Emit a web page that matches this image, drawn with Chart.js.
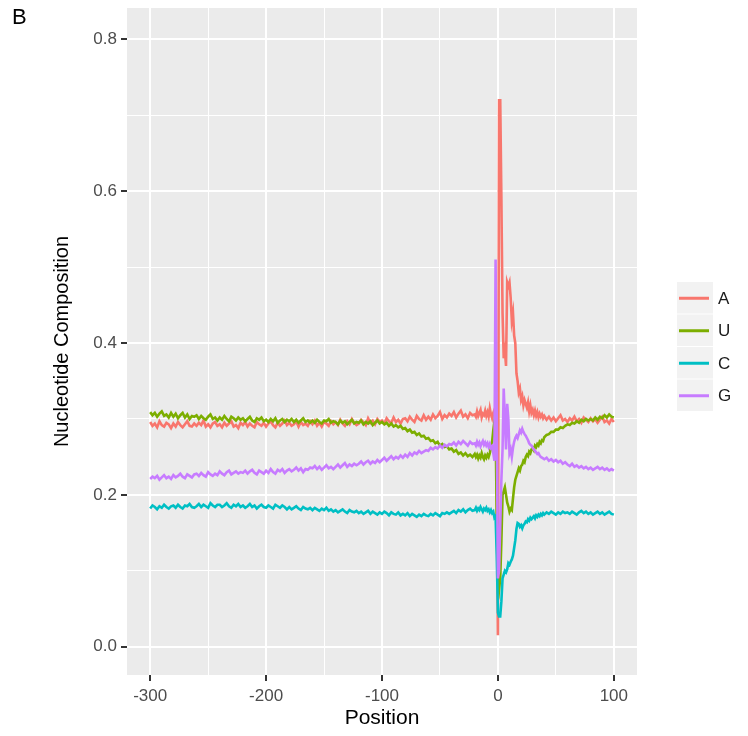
<!DOCTYPE html>
<html>
<head>
<meta charset="utf-8">
<script src="https://cdn.jsdelivr.net/npm/chart.js"></script>
<style>
  html, body { margin: 0; padding: 0; background: #fff; }
  #wrap { position: relative; width: 748px; height: 736px; }
</style>
</head>
<body>
<div id="wrap"><canvas id="ntChart" width="748" height="736"></canvas></div>
<script>
// positions: every 2 nt far from the site, every nt near it
const positions = [];
for (let p = -300; p <= -22; p += 2) positions.push(p);
for (let p = -20; p <= 39; p++) positions.push(p);
for (let p = 40; p <= 100; p += 2) positions.push(p);

const seriesNames = ["A", "U", "C", "G"];
const seriesColors = ["#F8766D", "#7CAE00", "#00BFC4", "#C77CFF"];

const xTicks = [-300, -250, -200, -150, -100, -50, 0, 50, 100];
const xLabels = [-300, -200, -100, 0, 100];
const yTicks = [0, 0.1, 0.2, 0.3, 0.4, 0.5, 0.6, 0.7, 0.8];
const yLabels = [0, 0.2, 0.4, 0.6, 0.8];

const valuesA = [
  .296,.291,.294,.289,.297,.292,.290,.295,.293,.288, // -300
  .294,.290,.296,.292,.289,.293,.297,.291,.290,.294, // -280
  .291,.295,.292,.298,.290,.293,.289,.294,.296,.291, // -260
  .293,.289,.295,.291,.294,.297,.290,.292,.288,.295, // -240
  .292,.296,.290,.294,.291,.289,.296,.293,.291,.295, // -220
  .290,.294,.297,.292,.289,.295,.291,.294,.298,.292, // -200
  .295,.291,.293,.297,.290,.296,.292,.294,.291,.297, // -180
  .293,.298,.291,.295,.290,.296,.294,.291,.297,.293, // -160
  .296,.292,.299,.294,.291,.297,.293,.300,.295,.292, // -140
  .294,.299,.296,.292,.301,.295,.298,.293,.300,.296, // -120
  .298,.294,.301,.297,.295,.302,.296,.299,.294,.300, // -100
  .301,.297,.303,.299,.296,.304,.300,.298,.305,.299, // -80
  .303,.299,.306,.301,.304,.309,.300,.305,.302,.307, // -60
  .304,.309,.302,.307,.311,.303,.306,.301,.308,.305, // -40
  .306,.303,.310,.304,.308,.312,.302,.307,.305,.311, // -20
  .304,.309,.303,.314,.306,.301,.308,.312,.305,.200, // -10
  .015,.720,.720,.590,.440,.380,.390,.370,.480,.475, // 0
  .480,.460,.430,.440,.410,.400,.360,.350,.335,.340, // 10
  .325,.330,.318,.325,.320,.315,.322,.310,.318,.308, // 20
  .312,.305,.311,.304,.309,.302,.307,.303,.306,.301, // 30
  .304,.299,.303,.298,.302,.297,.301,.305,.298,.300, // 40
  .296,.301,.298,.303,.297,.300,.295,.302,.299,.296, // 60
  .301,.297,.300,.295,.299,.303,.296,.298,.294,.300, // 80
  .296                                               // 100
];

const valuesU = [
  .309,.305,.308,.303,.307,.310,.304,.306,.302,.308,
  .303,.307,.301,.305,.308,.302,.306,.300,.304,.303,
  .305,.300,.304,.301,.299,.303,.306,.300,.302,.298,
  .302,.299,.304,.300,.297,.303,.301,.298,.302,.299,
  .301,.297,.300,.303,.298,.296,.301,.299,.302,.297,
  .299,.296,.300,.297,.301,.295,.298,.300,.296,.299,
  .297,.300,.296,.299,.295,.298,.301,.296,.298,.295,
  .298,.295,.299,.296,.294,.298,.297,.300,.295,.297,
  .296,.293,.298,.295,.297,.293,.296,.299,.294,.296,
  .295,.298,.293,.296,.294,.297,.292,.295,.298,.294,
  .296,.293,.295,.291,.294,.290,.292,.289,.291,.287,
  .288,.284,.286,.282,.283,.279,.281,.277,.278,.274,
  .275,.271,.272,.268,.270,.265,.267,.263,.264,.260,
  .261,.257,.259,.254,.256,.252,.255,.251,.253,.250,
  .254,.250,.253,.248,.252,.249,.255,.250,.247,.252,
  .249,.253,.250,.255,.262,.270,.285,.297,.290,.170,
  .085,.075,.090,.140,.200,.205,.210,.200,.190,.185,
  .178,.182,.180,.195,.210,.220,.225,.230,.235,.232,
  .238,.240,.245,.243,.250,.253,.251,.257,.255,.260,
  .262,.259,.265,.263,.267,.265,.270,.268,.272,.271,
  .276,.279,.280,.283,.283,.286,.286,.289,.288,.291,
  .293,.292,.295,.294,.297,.295,.299,.297,.300,.298,
  .300,.298,.302,.299,.303,.301,.305,.302,.306,.303,
  .302
];

const valuesC = [
  .182,.186,.184,.181,.185,.183,.187,.184,.182,.185,
  .186,.183,.187,.184,.182,.186,.185,.188,.184,.183,
  .185,.188,.184,.187,.185,.183,.189,.186,.184,.187,
  .187,.184,.186,.189,.185,.183,.187,.185,.188,.184,
  .186,.183,.185,.188,.184,.186,.182,.185,.187,.184,
  .183,.186,.184,.182,.187,.185,.183,.186,.184,.181,
  .184,.181,.183,.185,.182,.180,.184,.182,.181,.183,
  .180,.183,.181,.179,.182,.180,.183,.179,.181,.178,
  .180,.177,.179,.181,.178,.176,.180,.178,.177,.179,
  .176,.178,.175,.177,.179,.175,.178,.176,.174,.177,
  .175,.178,.176,.173,.177,.175,.174,.177,.173,.175,
  .173,.176,.172,.175,.173,.171,.174,.172,.175,.173,
  .172,.175,.173,.176,.174,.172,.176,.175,.177,.175,
  .177,.179,.176,.180,.178,.181,.177,.180,.182,.179,
  .180,.183,.179,.182,.180,.184,.181,.178,.182,.180,
  .183,.179,.181,.177,.180,.176,.178,.170,.172,.120,
  .045,.040,.040,.060,.090,.095,.100,.098,.102,.110,
  .108,.112,.115,.120,.130,.140,.155,.163,.162,.158,
  .160,.156,.160,.162,.165,.164,.168,.166,.170,.168,
  .170,.172,.169,.173,.171,.174,.172,.175,.173,.176,
  .174,.177,.175,.178,.176,.174,.177,.175,.178,.176,
  .177,.175,.178,.176,.174,.177,.179,.176,.178,.175,
  .177,.174,.176,.178,.175,.177,.174,.176,.178,.175,
  .174
];

const valuesG = [
  .221,.224,.222,.225,.220,.223,.226,.222,.224,.221,
  .226,.223,.225,.228,.224,.222,.227,.225,.223,.227,
  .228,.225,.229,.226,.224,.230,.227,.225,.228,.226,
  .231,.228,.226,.230,.232,.227,.229,.231,.228,.230,
  .229,.232,.228,.231,.233,.229,.227,.232,.230,.228,
  .232,.229,.234,.230,.228,.233,.231,.234,.229,.232,
  .234,.231,.233,.236,.232,.235,.230,.234,.233,.236,
  .235,.238,.234,.237,.233,.236,.239,.235,.237,.234,
  .237,.240,.236,.239,.242,.237,.240,.238,.241,.239,
  .241,.244,.240,.243,.245,.241,.244,.242,.246,.243,
  .246,.249,.245,.248,.251,.247,.250,.248,.252,.249,
  .253,.250,.255,.252,.256,.254,.258,.255,.257,.259,
  .258,.262,.260,.263,.261,.265,.262,.266,.264,.267,
  .266,.269,.265,.270,.267,.271,.268,.265,.270,.267,
  .268,.265,.270,.266,.269,.264,.268,.271,.266,.269,
  .265,.268,.263,.267,.262,.264,.255,.245,.510,.300,
  .090,.100,.160,.220,.260,.340,.300,.260,.320,.300,
  .255,.260,.250,.262,.270,.275,.278,.275,.280,.285,
  .282,.287,.283,.280,.278,.275,.272,.268,.266,.265,
  .262,.260,.258,.256,.254,.255,.252,.250,.249,.248,
  .247,.249,.245,.247,.244,.246,.243,.245,.241,.243,
  .240,.238,.241,.237,.239,.236,.238,.235,.237,.234,
  .236,.233,.235,.237,.234,.236,.233,.235,.232,.234,
  .232
];

const allValues = [valuesA, valuesU, valuesC, valuesG];

const FONT = "'Liberation Sans', Arial, sans-serif";

// grey panel + white canvas
const panelBg = {
  id: "panelBg",
  beforeDraw(chart) {
    const { ctx, chartArea: a } = chart;
    ctx.save();
    ctx.fillStyle = "#ffffff";
    ctx.fillRect(0, 0, chart.width, chart.height);
    ctx.fillStyle = "#EBEBEB";
    ctx.fillRect(a.left, a.top, a.right - a.left, a.bottom - a.top);
    ctx.restore();
  }
};

// ggplot-like legend on the right + panel tag "B"
const sideLegend = {
  id: "sideLegend",
  afterDraw(chart) {
    const ctx = chart.ctx;
    ctx.save();
    ctx.fillStyle = "#000";
    ctx.font = "22px " + FONT;
    ctx.textBaseline = "top";
    ctx.fillText("B", 12, 7);

    const top = 282, rowH = 32.5, keyX = 677, keyW = 36;
    ctx.font = "17px " + FONT;
    ctx.textBaseline = "middle";
    seriesNames.forEach((name, i) => {
      const y = top + i * rowH;
      ctx.fillStyle = "#F2F2F2";
      ctx.fillRect(keyX, y, keyW, rowH - 1);
      ctx.strokeStyle = seriesColors[i];
      ctx.lineWidth = 3;
      ctx.beginPath();
      ctx.moveTo(keyX + 2, y + rowH / 2);
      ctx.lineTo(keyX + keyW - 4, y + rowH / 2);
      ctx.stroke();
      ctx.fillStyle = "#1a1a1a";
      ctx.fillText(name, 718, y + rowH / 2 + 1);
    });
    ctx.restore();
  }
};

const isMajor = (list, v) => list.some(t => Math.abs(t - v) < 1e-6);

new Chart(document.getElementById("ntChart"), {
  type: "line",
  data: {
    datasets: seriesNames.map((name, i) => ({
      label: name,
      data: positions.map((p, k) => ({ x: p, y: allValues[i][k] })),
      borderColor: seriesColors[i],
      borderWidth: 2.6,
      pointRadius: 0,
      tension: 0,
      fill: false,
      order: 4 - i
    }))
  },
  options: {
    responsive: false,
    animation: false,
    events: [],
    layout: { padding: { top: 8, right: 111, left: 0, bottom: 0 } },
    plugins: { legend: { display: false }, tooltip: { enabled: false } },
    scales: {
      x: {
        type: "linear",
        min: -320,
        max: 120,
        afterBuildTicks: s => { s.ticks = xTicks.map(v => ({ value: v })); },
        afterFit: s => { s.height = 61; s.paddingLeft = 0; s.paddingRight = 0; },
        border: { display: false },
        grid: {
          color: "#ffffff",
          lineWidth: c => isMajor(xLabels, c.tick.value) ? 2 : 1,
          tickColor: c => isMajor(xLabels, c.tick.value) ? "#333333" : "rgba(0,0,0,0)",
          tickWidth: 2,
          tickLength: 6
        },
        ticks: {
          autoSkip: false,
          maxRotation: 0,
          padding: 5,
          color: "#4D4D4D",
          font: { family: FONT, size: 17 },
          callback: v => isMajor(xLabels, v) ? String(v) : ""
        },
        title: {
          display: true,
          text: "Position",
          color: "#000",
          font: { family: FONT, size: 21 },
          padding: { top: 0, bottom: 5 }
        }
      },
      y: {
        type: "linear",
        min: -0.0373,
        max: 0.8415,
        afterBuildTicks: s => { s.ticks = yTicks.map(v => ({ value: v })); },
        afterFit: s => { s.width = 127; s.paddingTop = 0; s.paddingBottom = 0; },
        border: { display: false },
        grid: {
          color: "#ffffff",
          lineWidth: c => isMajor(yLabels, c.tick.value) ? 2 : 1,
          tickColor: c => isMajor(yLabels, c.tick.value) ? "#333333" : "rgba(0,0,0,0)",
          tickWidth: 2,
          tickLength: 6
        },
        ticks: {
          autoSkip: false,
          padding: 4,
          color: "#4D4D4D",
          font: { family: FONT, size: 17 },
          callback: v => isMajor(yLabels, v) ? v.toFixed(1) : ""
        },
        title: {
          display: true,
          text: "Nucleotide Composition",
          color: "#000",
          font: { family: FONT, size: 20 },
          padding: { top: 50, bottom: 0 }
        }
      }
    }
  },
  plugins: [panelBg, sideLegend]
});
</script>
</body>
</html>
